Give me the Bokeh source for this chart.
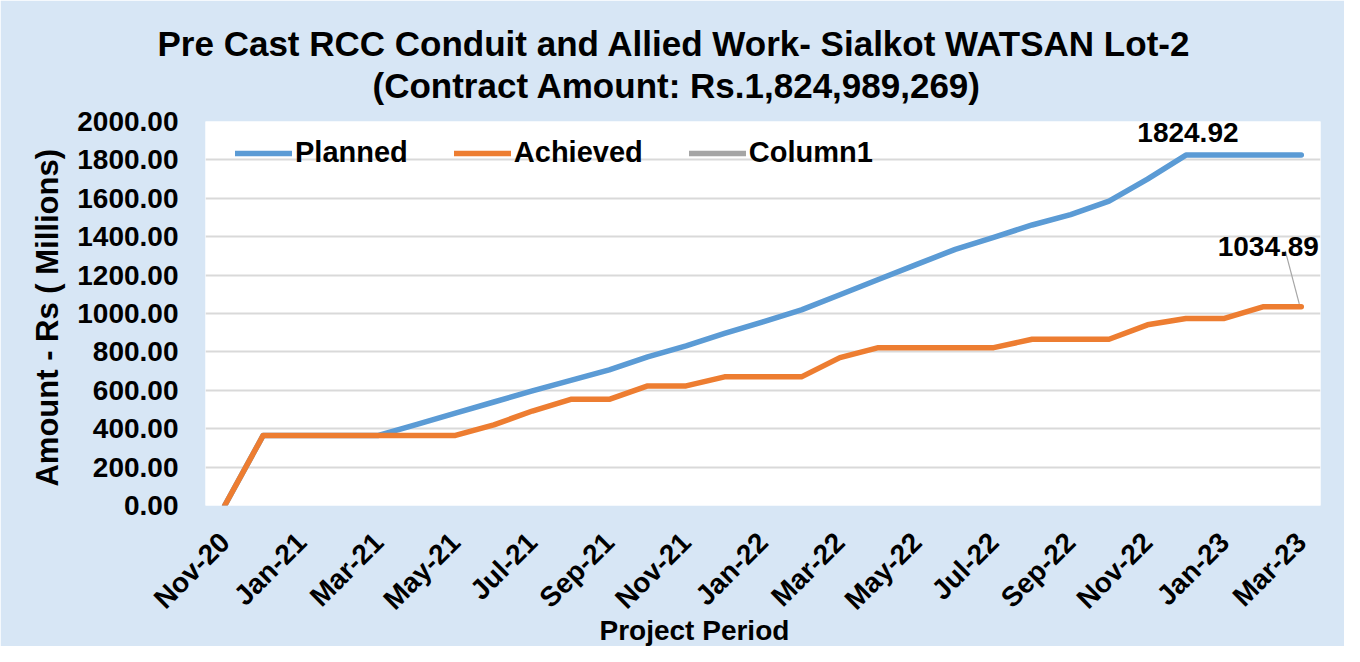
import math
import numpy as np
from bokeh.plotting import figure
from bokeh.models import (FixedTicker, NumeralTickFormatter, Legend, LegendItem,
                          Label, Title, Range1d)
from bokeh.embed import file_html
from bokeh.resources import INLINE

# ---------------- data ----------------
months = ["Nov-20", "Dec-20", "Jan-21", "Feb-21", "Mar-21", "Apr-21", "May-21",
          "Jun-21", "Jul-21", "Aug-21", "Sep-21", "Oct-21", "Nov-21", "Dec-21",
          "Jan-22", "Feb-22", "Mar-22", "Apr-22", "May-22", "Jun-22", "Jul-22",
          "Aug-22", "Sep-22", "Oct-22", "Nov-22", "Dec-22", "Jan-23", "Feb-23",
          "Mar-23"]
planned = [0, 365, 365, 365, 365, 423, 481, 539, 597, 652, 706, 774, 831, 896,
           957, 1019, 1098, 1177, 1256, 1334, 1397, 1461, 1515, 1585, 1700,
           1824.92, 1824.92, 1824.92, 1824.92]
achieved = [0, 365, 365, 365, 365, 365, 365, 420, 492, 553, 553, 623, 623, 670,
            670, 670, 770, 822, 822, 822, 822, 866, 866, 866, 941, 974, 974,
            1034.89, 1034.89]
column1 = np.full(len(months), np.nan)   # empty series (legend only)
series_names = ["Planned", "Achieved", "Column1"]
series_colors = ["#5b9bd5", "#ed7d31", "#a5a5a5"]
title_line1 = "Pre Cast RCC Conduit and Allied Work- Sialkot WATSAN Lot-2"
title_line2 = "(Contract Amount: Rs.1,824,989,269)"
y_label = "Amount - Rs  ( Millions)"
x_label = "Project Period"
y_ticks = list(range(0, 2001, 200))

# ---------------- figure ----------------
FONT = "Liberation Sans"
idx = list(range(len(months)))
W, H = 1344, 646
ML, MR, MT, MB = 205, 24, 121, 141
FW, FH = W - ML - MR, H - MT - MB

p = figure(width=W, height=H, output_backend="svg", toolbar_location=None,
           x_range=Range1d(-0.5, len(months) - 0.5),
           y_range=Range1d(y_ticks[0], y_ticks[-1]),
           min_border_left=ML, min_border_right=MR,
           min_border_top=MT, min_border_bottom=MB)
p.background_fill_color = "white"
p.border_fill_color = "#d7e6f5"
p.outline_line_color = None

# grid
p.xgrid.grid_line_color = None
p.ygrid.grid_line_color = "#d9d9d9"
p.ygrid.grid_line_width = 2
p.ygrid.ticker = FixedTicker(ticks=y_ticks)

# axes
for ax in (p.xaxis, p.yaxis):
    ax.axis_line_color = None
    ax.major_tick_line_color = None
    ax.minor_tick_line_color = None
    ax.major_tick_out = 0
    ax.major_tick_in = 0
    ax.major_label_text_font = FONT
    ax.major_label_text_font_style = "bold"
    ax.major_label_text_color = "black"
    ax.major_label_text_font_size = "28px"

p.yaxis.ticker = FixedTicker(ticks=y_ticks)
p.yaxis.formatter = NumeralTickFormatter(format="0.00")
p.yaxis.major_label_standoff = 27
p.yaxis.axis_label = y_label
p.yaxis.axis_label_text_font = FONT
p.yaxis.axis_label_text_font_style = "bold"
p.yaxis.axis_label_text_font_size = "31px"
p.yaxis.axis_label_text_color = "black"
p.yaxis.axis_label_standoff = 9

p.xaxis.ticker = FixedTicker(ticks=idx[::2])
p.xaxis.major_label_overrides = {i: months[i] for i in idx[::2]}
p.xaxis.major_label_orientation = math.pi / 4
p.xaxis.major_label_standoff = 32

# lines
renderers = []
for ys, col in zip([planned, achieved, column1], series_colors):
    r = p.line(idx, ys, line_color=col, line_width=5.5,
               line_join="round", line_cap="round")
    renderers.append(r)

legend = Legend(items=[LegendItem(label=n, renderers=[r])
                       for n, r in zip(series_names, renderers)],
                location=(30, FH - 48.6), orientation="horizontal")
legend.label_text_font = FONT
legend.label_text_font_style = "bold"
legend.label_text_font_size = "29px"
legend.label_text_color = "black"
legend.glyph_width = 57
legend.glyph_height = 34
legend.label_height = 34
legend.label_standoff = 3
legend.spacing = 46
legend.margin = 0
legend.padding = 0
legend.background_fill_alpha = 0
legend.border_line_color = None
p.add_layout(legend)

# data labels
px_x = FW / len(months)
px_y = FH / (y_ticks[-1] - y_ticks[0])

imax = planned.index(max(planned))
p.add_layout(Label(x=idx[imax], y=planned[imax], text="%.2f" % planned[imax],
                   text_font=FONT, text_font_style="bold", text_font_size="28px",
                   text_color="black", text_align="center",
                   text_baseline="alphabetic", x_offset=2, y_offset=23))

ilast = len(achieved) - 1
p.add_layout(Label(x=idx[ilast], y=achieved[ilast], text="%.2f" % achieved[ilast],
                   text_font=FONT, text_font_style="bold", text_font_size="28px",
                   text_color="black", text_align="center",
                   text_baseline="alphabetic", x_offset=-33, y_offset=60))
p.segment(x0=[idx[ilast] - 16 / px_x], y0=[achieved[ilast] + 56 / px_y],
          x1=[idx[ilast] - 2 / px_x], y1=[achieved[ilast] + 3 / px_y],
          line_color="#a6a6a6", line_width=1.2)

# titles
def make_title(text, offset, size, standoff, valign="bottom"):
    return Title(text=text, align="left", offset=offset, text_font=FONT,
                 text_font_style="bold", text_font_size=size,
                 text_color="black", standoff=standoff, vertical_align=valign)

p.add_layout(make_title(x_label, 394, "28px", -29, "top"), "below")

p.add_layout(Title(text=" ", text_font_size="2px", standoff=13), "above")
p.add_layout(make_title(title_line2, 167, "35px", 0), "above")
p.add_layout(make_title(title_line1, -48, "35px", 2), "above")

open("out.html", "w").write(file_html(p, INLINE))
